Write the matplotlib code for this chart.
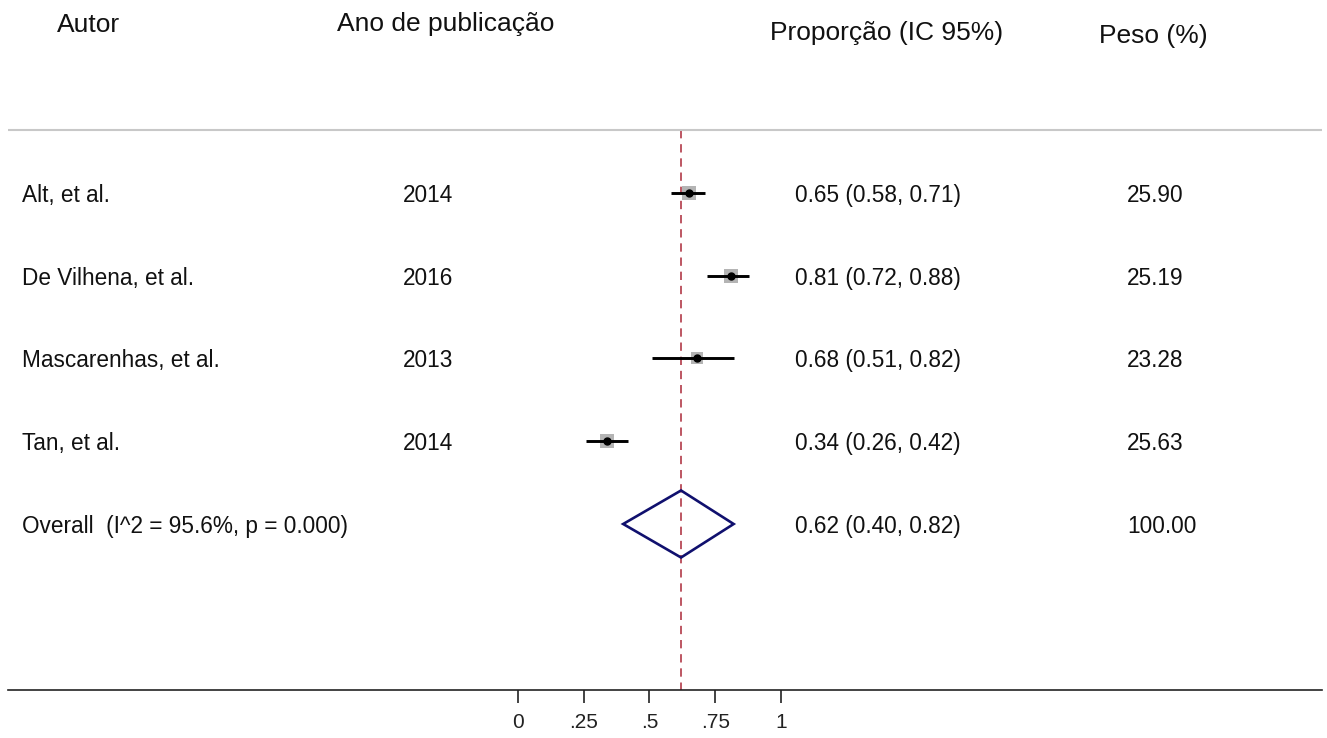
import matplotlib
matplotlib.use("Agg")
from matplotlib import pyplot as plt
from matplotlib.patches import Polygon

plt.rcParams['font.family'] = ['Liberation Sans', 'DejaVu Sans']

# dados do forest plot
autores = ["Alt, et al.", "De Vilhena, et al.", "Mascarenhas, et al.", "Tan, et al."]
anos = ["2014", "2016", "2013", "2014"]
prop = [0.65, 0.81, 0.68, 0.34]
ic_inf = [0.58, 0.72, 0.51, 0.26]
ic_sup = [0.71, 0.88, 0.82, 0.42]
peso = [25.90, 25.19, 23.28, 25.63]

overall_label = "Overall  (I^2 = 95.6%, p = 0.000)"
overall_prop = 0.62
overall_inf = 0.40
overall_sup = 0.82
overall_peso = 100.00

ticks = [0, 0.25, 0.5, 0.75, 1]
tick_labels = ["0", ".25", ".5", ".75", "1"]

fig = plt.figure(figsize=(13.27, 7.38), dpi=100)
ax = fig.add_axes([8 / 1327, 0, 1314 / 1327, 1])
ax.set_xlim(-1.939, 3.057)
# linhas em y = 1..5, de cima para baixo
ax.set_ylim(7.586, -1.332)

n = len(autores)
linhas = list(range(1, n + 1))
y_over = n + 1

# linha de referencia (estimativa global)
ax.plot([overall_prop, overall_prop], [0.239, 7.006], color="#b23a48",
        lw=1.2, dashes=(5, 3.5), zorder=1)

# estudos individuais
for y, p, lo, hi, w in zip(linhas, prop, ic_inf, ic_sup, peso):
    ax.plot(p, y, marker="s", markersize=w * 0.38, color="#b4b4b4",
            markeredgewidth=0, zorder=2)
    ax.plot([lo, hi], [y, y], color="black", lw=2.1, solid_capstyle="butt", zorder=3)
    ax.plot(p, y, marker="o", markersize=5, color="black", zorder=4)

# diamante do efeito global
diamante = Polygon([[overall_inf, y_over], [overall_prop, y_over - 0.405],
                    [overall_sup, y_over], [overall_prop, y_over + 0.405]],
                   closed=True, fill=False, edgecolor="#10106e", lw=1.9, zorder=3)
ax.add_patch(diamante)

# colunas de texto
tc = "#111111"
fs = 16.3
dy = 0.03
x_autor, x_ano, x_est, x_peso = -1.886, -0.437, 1.053, 2.316
for y, a, ano, p, lo, hi, w in zip(linhas, autores, anos, prop, ic_inf, ic_sup, peso):
    ax.text(x_autor, y + dy, a, fontsize=fs, va="center", ha="left", color=tc)
    ax.text(x_ano, y + dy, ano, fontsize=fs, va="center", ha="left", color=tc)
    ax.text(x_est, y + dy, f"{p:.2f} ({lo:.2f}, {hi:.2f})", fontsize=fs, va="center", ha="left", color=tc)
    ax.text(x_peso, y + dy, f"{w:.2f}", fontsize=fs, va="center", ha="left", color=tc)

ax.text(x_autor, y_over + dy, overall_label, fontsize=fs, va="center", ha="left", color=tc)
ax.text(x_est, y_over + dy, f"{overall_prop:.2f} ({overall_inf:.2f}, {overall_sup:.2f})",
        fontsize=fs, va="center", ha="left", color=tc)
ax.text(x_peso, y_over + dy, f"{overall_peso:.2f}", fontsize=fs, va="center", ha="left", color=tc)

# cabecalhos
hs = 19
ax.text(-1.753, -1.030, "Autor", fontsize=hs, va="center", ha="left", color=tc)
ax.text(-0.688, -1.042, "Ano de publicação", fontsize=hs, va="center", ha="left", color=tc)
ax.text(0.958, -0.933, "Proporção (IC 95%)", fontsize=hs, va="center", ha="left", color=tc)
ax.text(2.209, -0.897, "Peso (%)", fontsize=hs, va="center", ha="left", color=tc)

# linha superior cinza
ax.axhline(0.239, color="#c8c8c8", lw=1.5, zorder=1)

# eixo x
for s in ["top", "left", "right"]:
    ax.spines[s].set_visible(False)
ax.spines["bottom"].set_position(("data", 7.006))
ax.spines["bottom"].set_linewidth(1.2)
ax.spines["bottom"].set_color("#222222")
ax.set_yticks([])
ax.set_xticks(ticks)
ax.set_xticklabels(tick_labels)
ax.tick_params(axis="x", direction="out", length=9.5, width=1.2, color="#222222",
               labelsize=15, labelcolor="#222222", pad=7)
ax.patch.set_visible(False)

fig.savefig("out.png", dpi=100)
